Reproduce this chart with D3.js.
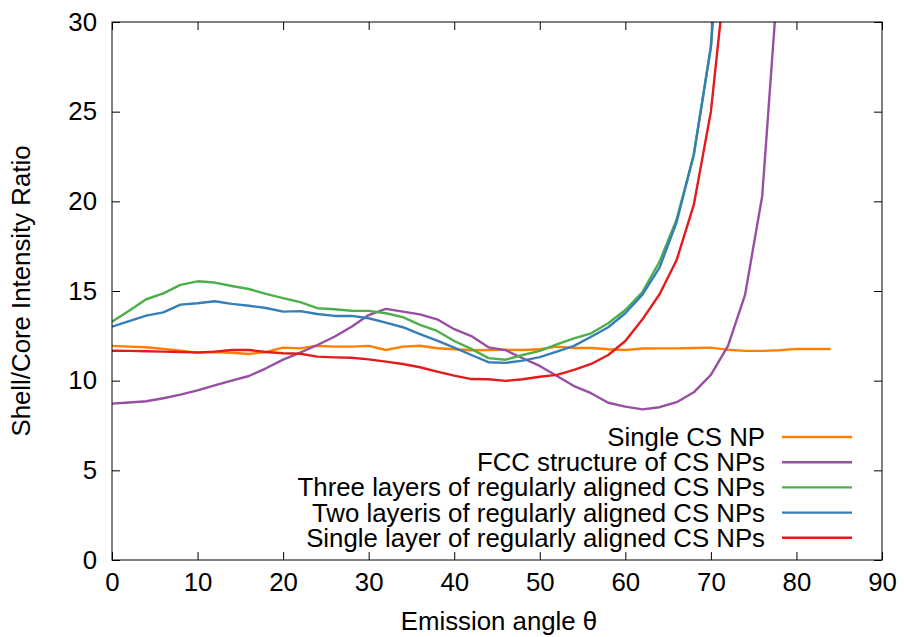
<!DOCTYPE html>
<html>
<head>
<meta charset="utf-8">
<script src="https://cdn.jsdelivr.net/npm/d3@7"></script>
<style>
  body { margin: 0; background: #fff; }
  svg text { font-family: "Liberation Sans", Arial, sans-serif; fill: #000; }
</style>
</head>
<body>
<svg id="chart" width="904" height="637"></svg>
<script>
// Emission angles (degrees), sampled every 2 deg
const angles = d3.range(0, 86, 2);

const singleNP   = [11.94, 11.9, 11.86, 11.77, 11.67, 11.55, 11.6, 11.56, 11.49, 11.6, 11.84, 11.8, 11.95, 11.9, 11.9, 11.94, 11.71, 11.9, 11.95, 11.81, 11.75, 11.7, 11.71, 11.72, 11.71, 11.75, 11.9, 11.82, 11.82, 11.75, 11.71, 11.79, 11.8, 11.8, 11.82, 11.84, 11.72, 11.66, 11.66, 11.7, 11.77, 11.77, 11.77];
const fccNP      = [8.72, 8.78, 8.85, 9.02, 9.22, 9.46, 9.74, 10.0, 10.26, 10.69, 11.17, 11.56, 11.99, 12.45, 13.01, 13.66, 14.0, 13.85, 13.7, 13.42, 12.87, 12.49, 11.86, 11.7, 11.25, 10.82, 10.26, 9.7, 9.3, 8.77, 8.55, 8.4, 8.52, 8.8, 9.35, 10.32, 11.94, 14.8, 20.3, 33.5];
const threeLayer = [13.29, 13.9, 14.54, 14.87, 15.34, 15.54, 15.47, 15.28, 15.11, 14.84, 14.6, 14.38, 14.04, 13.98, 13.9, 13.89, 13.76, 13.54, 13.11, 12.77, 12.21, 11.77, 11.26, 11.17, 11.43, 11.66, 12.03, 12.36, 12.64, 13.2, 13.94, 14.94, 16.64, 19.0, 22.6, 28.63, 42];
const twoLayer   = [13.01, 13.32, 13.63, 13.81, 14.24, 14.32, 14.43, 14.28, 14.18, 14.05, 13.85, 13.88, 13.72, 13.61, 13.61, 13.48, 13.24, 12.98, 12.6, 12.23, 11.84, 11.43, 11.03, 10.99, 11.12, 11.31, 11.62, 11.94, 12.45, 12.98, 13.76, 14.8, 16.3, 18.85, 22.6, 28.6, 42];
const oneLayer   = [11.67, 11.66, 11.64, 11.62, 11.6, 11.58, 11.62, 11.71, 11.71, 11.6, 11.53, 11.5, 11.34, 11.3, 11.28, 11.19, 11.06, 10.93, 10.75, 10.5, 10.28, 10.09, 10.08, 9.99, 10.08, 10.22, 10.32, 10.6, 10.93, 11.43, 12.21, 13.42, 14.82, 16.73, 19.8, 25.0, 34];

const seriesNames = [
  "Single CS NP",
  "FCC structure of CS NPs",
  "Three layers of regularly aligned CS NPs",
  "Two layeris of regularly aligned CS NPs",
  "Single layer of regularly aligned CS NPs"
];
const seriesValues = [singleNP, fccNP, threeLayer, twoLayer, oneLayer];
const colors = ["#ff7f00", "#984ea3", "#4daf4a", "#377eb8", "#e41a1c"];

const xTicks = d3.range(0, 100, 10);
const yTicks = d3.range(0, 35, 5);

const fontSize = "25.8px";

const margin = {top: 22, right: 22, bottom: 77, left: 112};
const width = 904 - margin.left - margin.right;
const height = 637 - margin.top - margin.bottom;

const svg = d3.select("#chart");
const g = svg.append("g").attr("transform", `translate(${margin.left},${margin.top})`);

const x = d3.scaleLinear().domain([0, 90]).range([0, width]);
const y = d3.scaleLinear().domain([0, 30]).range([height, 0]);

svg.append("defs").append("clipPath").attr("id", "clip")
  .append("rect").attr("width", width).attr("height", height);

// axes, ticks pointing inward, mirrored on top/right
const tickLen = 8;
g.append("g").attr("transform", `translate(0,${height})`)
  .call(d3.axisBottom(x).tickValues(xTicks).tickSizeInner(-tickLen).tickSizeOuter(0).tickPadding(13));
g.append("g")
  .call(d3.axisLeft(y).tickValues(yTicks).tickSizeInner(-tickLen).tickSizeOuter(0).tickPadding(15));
g.append("g")
  .call(d3.axisTop(x).tickValues(xTicks).tickSizeInner(-tickLen).tickSizeOuter(0).tickFormat(""));
g.append("g").attr("transform", `translate(${width},0)`)
  .call(d3.axisRight(y).tickValues(yTicks).tickSizeInner(-tickLen).tickSizeOuter(0).tickFormat(""));

g.selectAll(".domain").remove();
g.selectAll(".tick line").attr("stroke", "#000").attr("stroke-width", 1);
g.selectAll(".tick text").style("font-size", fontSize);

// lines
const line = d3.line()
  .x((d, i) => x(angles[i]))
  .y(d => y(d));

const plot = g.append("g").attr("clip-path", "url(#clip)");
seriesValues.forEach((vals, k) => {
  plot.append("path")
    .datum(vals)
    .attr("fill", "none")
    .attr("stroke", colors[k])
    .attr("stroke-width", 2.4)
    .attr("stroke-linejoin", "round")
    .attr("d", line);
});

// frame
g.append("rect")
  .attr("width", width).attr("height", height)
  .attr("fill", "none").attr("stroke", "#000").attr("stroke-width", 1);

// legend
const legend = g.append("g").attr("transform", `translate(${653},${415})`);
seriesNames.forEach((name, k) => {
  const row = legend.append("g").attr("transform", `translate(0,${k * 25.2})`);
  row.append("text")
    .attr("x", 0).attr("y", 0).attr("dy", "0.35em")
    .attr("text-anchor", "end")
    .style("font-size", fontSize)
    .text(name);
  row.append("line")
    .attr("x1", 17).attr("x2", 87)
    .attr("stroke", colors[k]).attr("stroke-width", 2.4);
});

// axis titles
svg.append("text")
  .attr("x", margin.left + width / 2 + 2).attr("y", 621).attr("dy", "0.35em")
  .attr("text-anchor", "middle")
  .style("font-size", fontSize)
  .text("Emission angle θ");

svg.append("text")
  .attr("transform", `translate(21,${margin.top + height / 2}) rotate(-90)`)
  .attr("dy", "0.35em")
  .attr("text-anchor", "middle")
  .style("font-size", fontSize)
  .text("Shell/Core Intensity Ratio");
</script>
</body>
</html>
